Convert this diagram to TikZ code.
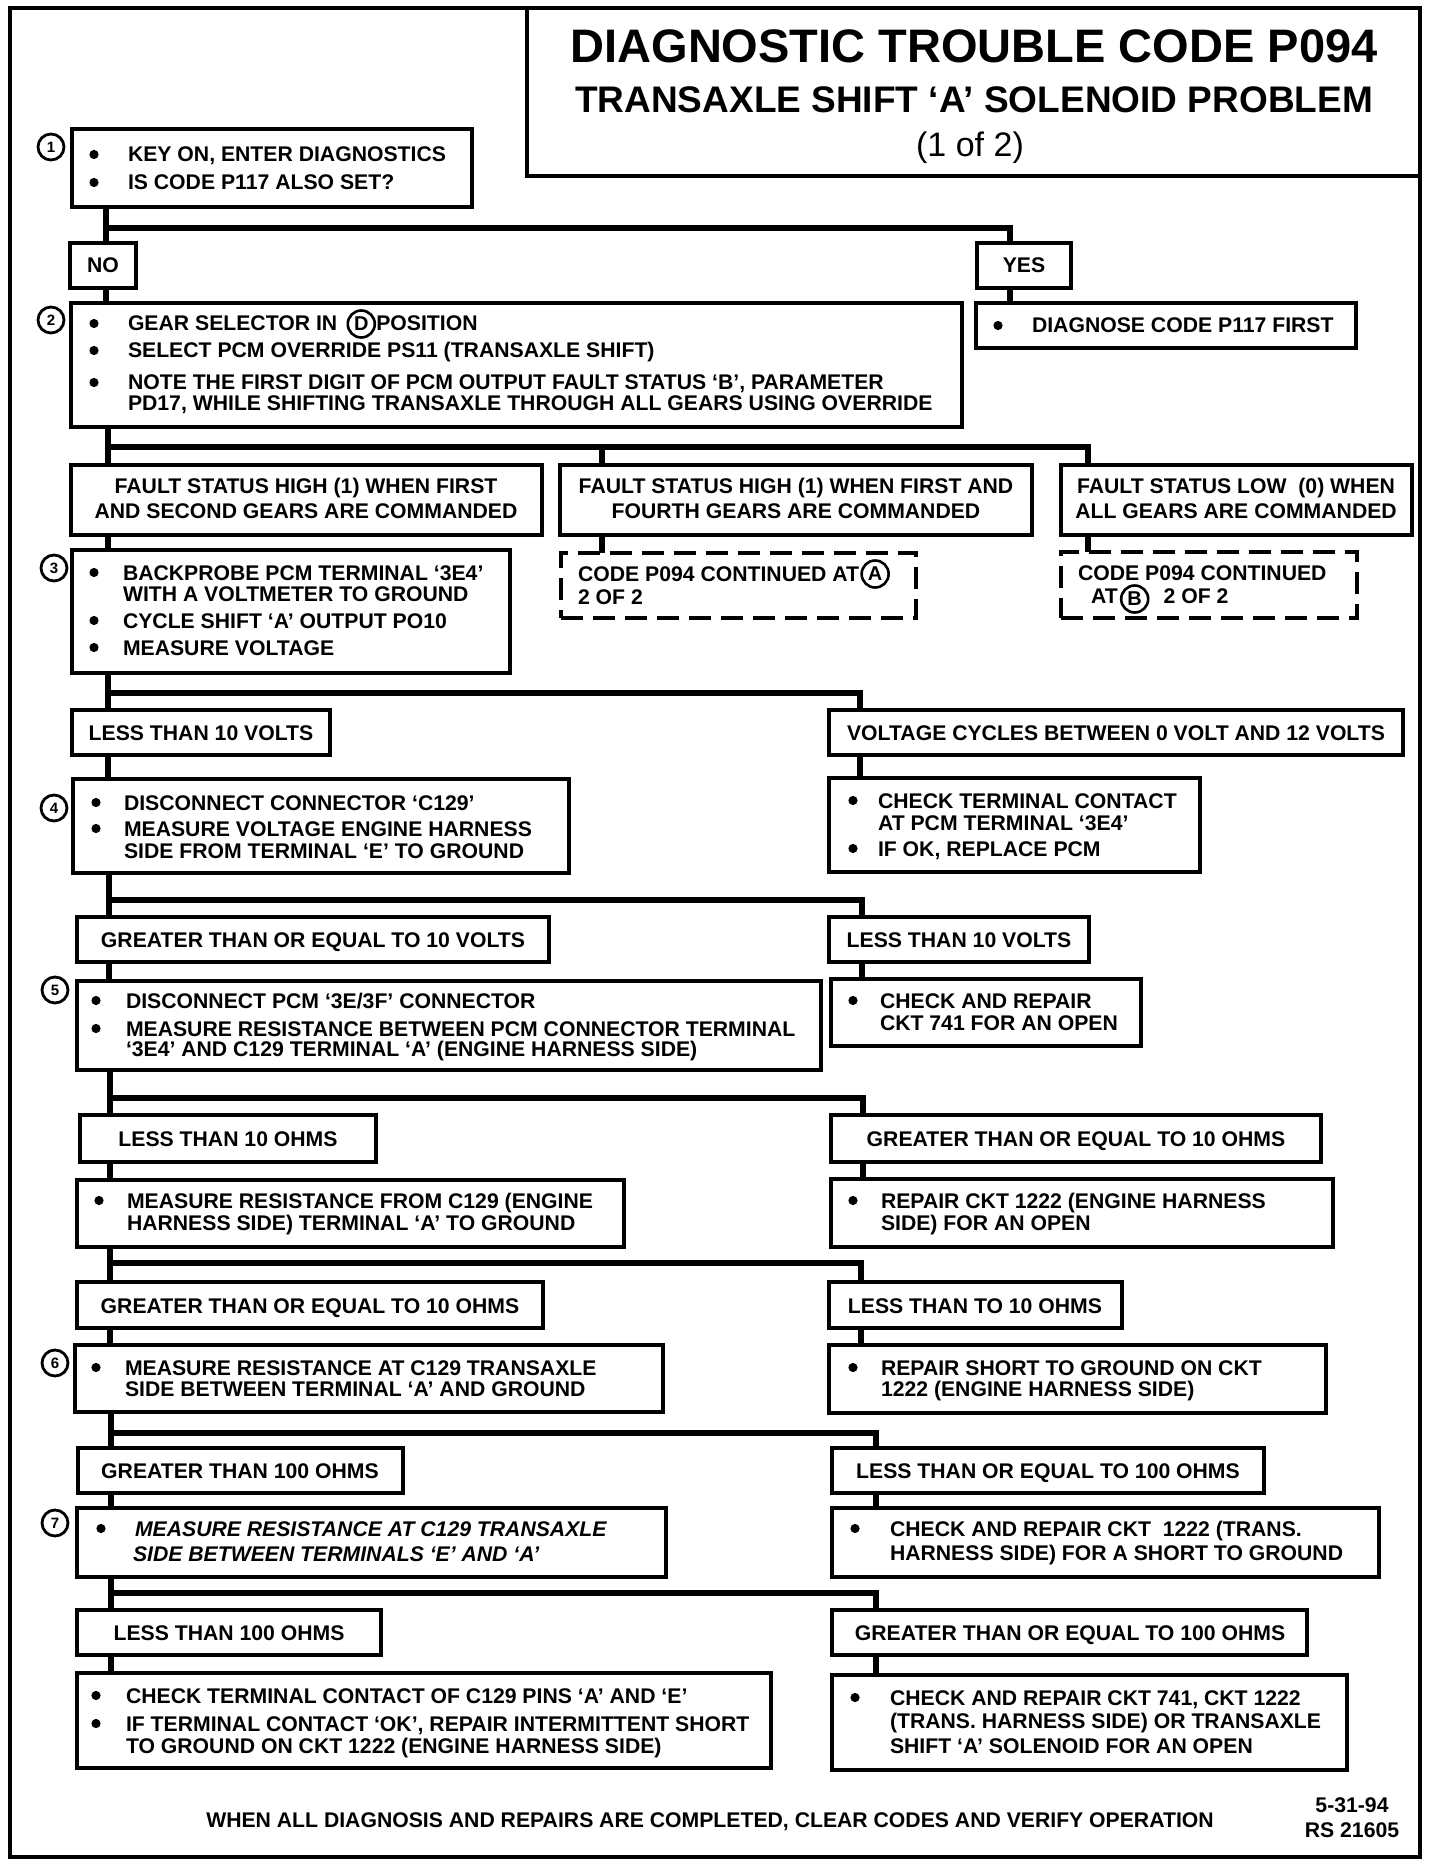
\documentclass[tikz,border=0pt]{standalone}
\usepackage{fontspec}
\setmainfont{Liberation Sans}[Ligatures=TeX]
\usetikzlibrary{fit,calc}
\newcounter{nn}
\newcommand\TxL[3]{\stepcounter{nn}\node[txt,anchor=base west] (t\arabic{nn}) at (#1,#2) {#3};}
\newcommand\TxC[3]{\stepcounter{nn}\node[txt,anchor=base] (t\arabic{nn}) at (#1,#2) {#3};}
\newcommand\Bul[2]{\stepcounter{nn}\node[bul] (u\arabic{nn}) at (#1,#2-7.5) {};}
\tikzset{
 bx/.style={draw, line width=2pt, inner sep=0pt, outer sep=0pt},
 dbx/.style={draw, line width=1.6pt, dash pattern=on 11pt off 5pt, inner sep=0pt, outer sep=0pt},
 frm/.style={draw, line width=2pt, inner sep=0pt, outer sep=0pt},
 conn/.style={line width=3.2pt, line join=miter},
 txt/.style={inner sep=0pt, outer sep=0pt, font=\bfseries\fontsize{10.6}{12}\selectfont},
 bul/.style={circle, fill, inner sep=0pt, minimum size=4.6pt},
 stepnum/.style={circle, draw, line width=1.4pt, inner sep=0pt, minimum size=13pt, font=\bfseries\fontsize{7.5}{8}\selectfont},
 letc/.style={circle, draw, line width=1.3pt, inner sep=0pt, minimum size=13.5pt, font=\bfseries\fontsize{10}{10}\selectfont},
}
\begin{document}
\begin{tikzpicture}[x=0.5pt,y=-0.5pt]
\useasboundingbox (0,0) rectangle (1440,1866);
\node[frm, fit={(10,8) (1420,1857)}] (frame) {};
\node[frm, fit={(527,8) (1420,176)}] (titlebox) {};
\node[font=\bfseries\fontsize{23.5}{24}\selectfont, inner sep=0pt, anchor=base] (title1) at (974,63) {DIAGNOSTIC TROUBLE CODE P094};
\node[font=\bfseries\fontsize{18.5}{20}\selectfont, inner sep=0pt, anchor=base] (title2) at (974,113) {TRANSAXLE SHIFT `A' SOLENOID PROBLEM};
\node[font=\fontsize{17}{18}\selectfont, inner sep=0pt, anchor=base] (title3) at (970,157) {(1 of 2)};

% step 1
\node[bx, fit={(72,129) (472,207)}] (b1) {};
\node[stepnum] (n1) at (51,147) {1};
\Bul{94}{162} \TxL{128}{162}{KEY ON, ENTER DIAGNOSTICS}
\Bul{94}{190} \TxL{128}{190}{IS CODE P117 ALSO SET?}

\node[bx, fit={(70,243) (136,288)}] (no) {};
\TxC{103}{273}{NO}
\node[bx, fit={(977,243) (1071,288)}] (yes) {};
\TxC{1024}{273}{YES}
\node[bx, fit={(976,303) (1356,348)}] (diag) {};
\Bul{998}{333} \TxL{1032}{333}{DIAGNOSE CODE P117 FIRST}

% step 2
\node[bx, fit={(71,303) (962,427)}] (b2) {};
\node[stepnum] (n2) at (51,320) {2};
\Bul{94}{331}
\node[txt, anchor=base west] (gs) at (128,331) {GEAR SELECTOR IN};
\node[letc] (cD) at ($(gs.base east)+(24,-7)$) {D};
\node[txt, anchor=base west] (gpos) at ($(gs.base east)+(39,0)$) {POSITION};
\Bul{94}{358} \TxL{128}{358}{SELECT PCM OVERRIDE PS11 (TRANSAXLE SHIFT)}
\Bul{94}{390} \TxL{128}{390}{NOTE THE FIRST DIGIT OF PCM OUTPUT FAULT STATUS `B', PARAMETER}
\TxL{128}{411}{PD17, WHILE SHIFTING TRANSAXLE THROUGH ALL GEARS USING OVERRIDE}

\coordinate (j1) at (106,228); \coordinate (j1r) at (1010,228);
\draw[conn] (b1.south -| j1) -- (no.north -| j1);
\draw[conn] (j1) -- (j1r) -- (yes.north -| j1r);
\draw[conn] (no.south -| j1) -- (b2.north -| j1);
\draw[conn] (yes.south -| j1r) -- (diag.north -| j1r);

% fault status row
\node[bx, fit={(71,465) (542,535)}] (fs1) {};
\TxC{306}{493}{FAULT STATUS HIGH (1) WHEN FIRST}
\TxC{306}{518}{AND SECOND GEARS ARE COMMANDED}
\node[bx, fit={(560,465) (1032,535)}] (fs2) {};
\TxC{796}{493}{FAULT STATUS HIGH (1) WHEN FIRST AND}
\TxC{796}{518}{FOURTH GEARS ARE COMMANDED}
\node[bx, fit={(1061,465) (1412,535)}] (fs3) {};
\TxC{1236}{493}{FAULT STATUS LOW\ \ (0) WHEN}
\TxC{1236}{518}{ALL GEARS ARE COMMANDED}

\node[dbx, fit={(561,553) (916,618)}] (dA) {};
\node[txt, anchor=base west] (cA1) at (578,581) {CODE P094 CONTINUED AT};
\node[letc] (cA) at ($(cA1.base east)+(16,-7)$) {A};
\TxL{578}{604}{2 OF 2}
\node[dbx, fit={(1061,552) (1357,618)}] (dB) {};
\TxL{1078}{580}{CODE P094 CONTINUED}
\node[txt, anchor=base west] (cB1) at (1091,603) {AT};
\node[letc] (cB) at ($(cB1.base east)+(17,-4)$) {B};
\node[txt, anchor=base west] (cB2) at ($(cB1.base east)+(46,0)$) {2 OF 2};

\coordinate (j2) at (108,447); \coordinate (j2m) at (602,447); \coordinate (j2r) at (1088,447);
\draw[conn] (b2.south -| j2) -- (fs1.north -| j2);
\draw[conn] (j2) -- (j2r) -- (fs3.north -| j2r);
\draw[conn] (j2m) -- (fs2.north -| j2m);
\draw[conn] (fs2.south -| j2m) -- (dA.north -| j2m);
\draw[conn] (fs3.south -| j2r) -- (dB.north -| j2r);

% step 3
\node[bx, fit={(72,550) (510,673)}] (b3) {};
\node[stepnum] (n3) at (54,568) {3};
\Bul{94}{580} \TxL{123}{580}{BACKPROBE PCM TERMINAL `3E4'}
\TxL{123}{601}{WITH A VOLTMETER TO GROUND}
\Bul{94}{628} \TxL{123}{628}{CYCLE SHIFT `A' OUTPUT PO10}
\Bul{94}{655} \TxL{123}{655}{MEASURE VOLTAGE}
\draw[conn] (fs1.south -| j2) -- (b3.north -| j2);

\node[bx, fit={(72,710) (330,755)}] (lt10v) {};
\TxC{201}{740}{LESS THAN 10 VOLTS}
\node[bx, fit={(829,710) (1403,755)}] (vc) {};
\TxC{1116}{740}{VOLTAGE CYCLES BETWEEN 0 VOLT AND 12 VOLTS}
\coordinate (j3) at (108,693); \coordinate (j3r) at (860,693);
\draw[conn] (b3.south -| j3) -- (lt10v.north -| j3);
\draw[conn] (j3) -- (j3r) -- (vc.north -| j3r);

% step 4
\node[bx, fit={(73,779) (569,873)}] (b4) {};
\node[stepnum] (n4) at (54,808) {4};
\Bul{96}{810} \TxL{124}{810}{DISCONNECT CONNECTOR `C129'}
\Bul{96}{836} \TxL{124}{836}{MEASURE VOLTAGE ENGINE HARNESS}
\TxL{124}{858}{SIDE FROM TERMINAL `E' TO GROUND}
\node[bx, fit={(829,778) (1200,872)}] (ctc) {};
\Bul{853}{808} \TxL{878}{808}{CHECK TERMINAL CONTACT}
\TxL{878}{830}{AT PCM TERMINAL `3E4'}
\Bul{853}{856} \TxL{878}{856}{IF OK, REPLACE PCM}
\draw[conn] (lt10v.south -| j3) -- (b4.north -| j3);
\draw[conn] (vc.south -| j3r) -- (ctc.north -| j3r);

\node[bx, fit={(77,917) (549,962)}] (ge10v) {};
\TxC{313}{947}{GREATER THAN OR EQUAL TO 10 VOLTS}
\node[bx, fit={(829,917) (1089,962)}] (lt10v2) {};
\TxC{959}{947}{LESS THAN 10 VOLTS}
\node[bx, fit={(831,979) (1141,1046)}] (c741) {};
\Bul{853}{1008} \TxL{880}{1008}{CHECK AND REPAIR}
\TxL{880}{1030}{CKT 741 FOR AN OPEN}
\coordinate (j4) at (109,900); \coordinate (j4r) at (862,900);
\draw[conn] (b4.south -| j4) -- (ge10v.north -| j4);
\draw[conn] (j4) -- (j4r) -- (lt10v2.north -| j4r);
\draw[conn] (lt10v2.south -| j4r) -- (c741.north -| j4r);

% step 5
\node[bx, fit={(77,981) (821,1070)}] (b5) {};
\node[stepnum] (n5) at (55,990) {5};
\Bul{96}{1008} \TxL{126}{1008}{DISCONNECT PCM `3E/3F' CONNECTOR}
\Bul{96}{1036} \TxL{126}{1036}{MEASURE RESISTANCE BETWEEN PCM CONNECTOR TERMINAL}
\TxL{126}{1056}{`3E4' AND C129 TERMINAL `A' (ENGINE HARNESS SIDE)}
\draw[conn] (ge10v.south -| j4) -- (b5.north -| j4);

\node[bx, fit={(80,1115) (376,1162)}] (lt10o) {};
\TxC{228}{1146}{LESS THAN 10 OHMS}
\node[bx, fit={(831,1115) (1321,1162)}] (ge10o) {};
\TxC{1076}{1146}{GREATER THAN OR EQUAL TO 10 OHMS}
\node[bx, fit={(77,1180) (624,1247)}] (mrc) {};
\Bul{99}{1208} \TxL{127}{1208}{MEASURE RESISTANCE FROM C129 (ENGINE}
\TxL{127}{1230}{HARNESS SIDE) TERMINAL `A' TO GROUND}
\node[bx, fit={(831,1179) (1333,1247)}] (rep1) {};
\Bul{853}{1208} \TxL{881}{1208}{REPAIR CKT 1222 (ENGINE HARNESS}
\TxL{881}{1230}{SIDE) FOR AN OPEN}
\coordinate (j5) at (110,1098); \coordinate (j5r) at (863,1098);
\draw[conn] (b5.south -| j5) -- (lt10o.north -| j5);
\draw[conn] (j5) -- (j5r) -- (ge10o.north -| j5r);
\draw[conn] (lt10o.south -| j5) -- (mrc.north -| j5);
\draw[conn] (ge10o.south -| j5r) -- (rep1.north -| j5r);

% step 6
\node[bx, fit={(77,1282) (543,1328)}] (ge10o2) {};
\TxC{310}{1313}{GREATER THAN OR EQUAL TO 10 OHMS}
\node[bx, fit={(829,1282) (1122,1328)}] (ltto) {};
\TxC{975}{1313}{LESS THAN TO 10 OHMS}
\node[bx, fit={(75,1345) (663,1412)}] (b6) {};
\node[stepnum] (n6) at (55,1363) {6};
\Bul{96}{1375} \TxL{125}{1375}{MEASURE RESISTANCE AT C129 TRANSAXLE}
\TxL{125}{1396}{SIDE BETWEEN TERMINAL `A' AND GROUND}
\node[bx, fit={(829,1345) (1326,1413)}] (rep2) {};
\Bul{853}{1375} \TxL{881}{1375}{REPAIR SHORT TO GROUND ON CKT}
\TxL{881}{1396}{1222 (ENGINE HARNESS SIDE)}
\coordinate (j6) at (110,1263); \coordinate (j6r) at (861,1263);
\draw[conn] (mrc.south -| j6) -- (ge10o2.north -| j6);
\draw[conn] (j6) -- (j6r) -- (ltto.north -| j6r);
\draw[conn] (ge10o2.south -| j6) -- (b6.north -| j6);
\draw[conn] (ltto.south -| j6r) -- (rep2.north -| j6r);

% step 7
\node[bx, fit={(78,1448) (403,1493)}] (gt100) {};
\TxC{240}{1478}{GREATER THAN 100 OHMS}
\node[bx, fit={(832,1448) (1264,1493)}] (le100) {};
\TxC{1048}{1478}{LESS THAN OR EQUAL TO 100 OHMS}
\node[bx, fit={(77,1508) (666,1577)}] (b7) {};
\node[stepnum] (n7) at (55,1523) {7};
\Bul{101}{1536} \TxL{135}{1536}{\itshape MEASURE RESISTANCE AT C129 TRANSAXLE}
\TxL{133}{1561}{\itshape SIDE BETWEEN TERMINALS `E' AND `A'}
\node[bx, fit={(832,1508) (1379,1577)}] (crc) {};
\Bul{855}{1536} \TxL{890}{1536}{CHECK AND REPAIR CKT\ \ 1222 (TRANS.}
\TxL{890}{1560}{HARNESS SIDE) FOR A SHORT TO GROUND}
\coordinate (j7) at (111,1433); \coordinate (j7r) at (876,1433);
\draw[conn] (b6.south -| j7) -- (gt100.north -| j7);
\draw[conn] (j7) -- (j7r) -- (le100.north -| j7r);
\draw[conn] (gt100.south -| j7) -- (b7.north -| j7);
\draw[conn] (le100.south -| j7r) -- (crc.north -| j7r);

% final
\node[bx, fit={(77,1610) (381,1655)}] (lt100) {};
\TxC{229}{1640}{LESS THAN 100 OHMS}
\node[bx, fit={(832,1610) (1307,1655)}] (ge100) {};
\TxC{1070}{1640}{GREATER THAN OR EQUAL TO 100 OHMS}
\node[bx, fit={(77,1673) (771,1768)}] (fin1) {};
\Bul{96}{1703} \TxL{126}{1703}{CHECK TERMINAL CONTACT OF C129 PINS `A' AND `E'}
\Bul{96}{1731} \TxL{126}{1731}{IF TERMINAL CONTACT `OK', REPAIR INTERMITTENT SHORT}
\TxL{126}{1753}{TO GROUND ON CKT 1222 (ENGINE HARNESS SIDE)}
\node[bx, fit={(832,1675) (1347,1770)}] (fin2) {};
\Bul{855}{1705} \TxL{890}{1705}{CHECK AND REPAIR CKT 741, CKT 1222}
\TxL{890}{1728}{(TRANS. HARNESS SIDE) OR TRANSAXLE}
\TxL{890}{1753}{SHIFT `A' SOLENOID FOR AN OPEN}
\coordinate (j8) at (111,1593); \coordinate (j8r) at (876,1593);
\draw[conn] (b7.south -| j8) -- (lt100.north -| j8);
\draw[conn] (j8) -- (j8r) -- (ge100.north -| j8r);
\draw[conn] (lt100.south -| j8) -- (fin1.north -| j8);
\draw[conn] (ge100.south -| j8r) -- (fin2.north -| j8r);

% footer
\TxC{710}{1827}{WHEN ALL DIAGNOSIS AND REPAIRS ARE COMPLETED, CLEAR CODES AND VERIFY OPERATION}
\TxC{1352}{1812}{5-31-94}
\TxC{1352}{1837}{RS 21605}
\end{tikzpicture}
\end{document}
